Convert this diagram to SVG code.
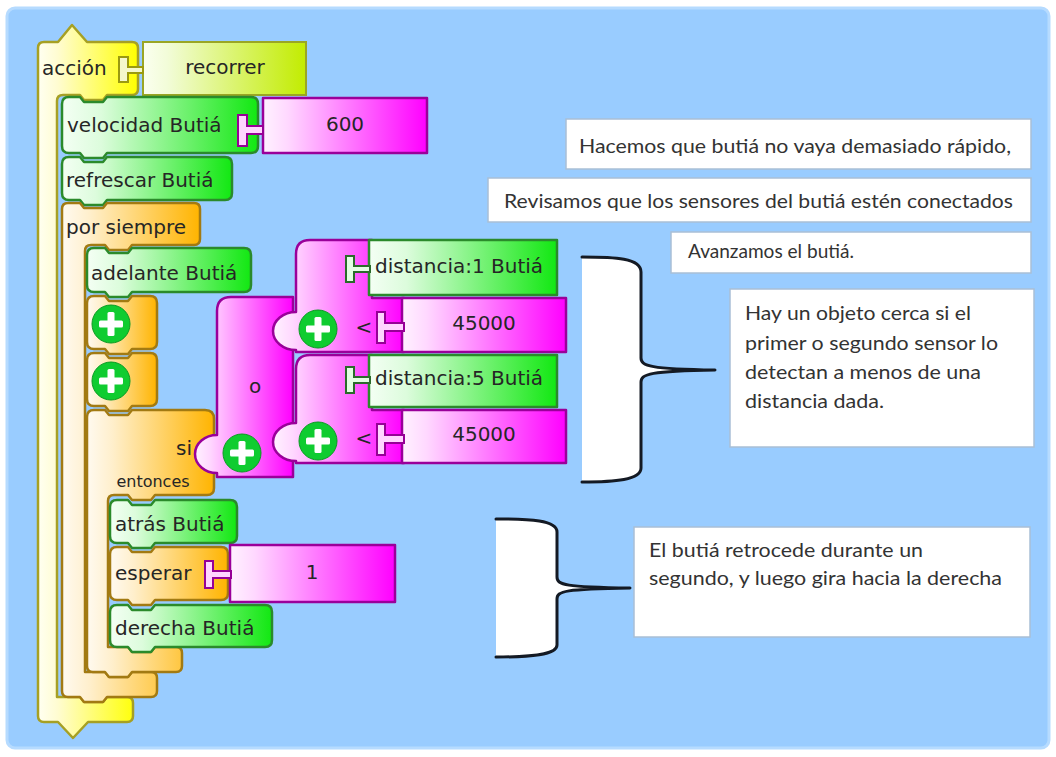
<svg xmlns="http://www.w3.org/2000/svg" width="1056" height="757" viewBox="0 0 1056 757">
<defs>
<linearGradient id="gG" x1="0" y1="0" x2="1" y2="0"><stop offset="0" stop-color="#f4fff4"/><stop offset="0.2" stop-color="#dcfcdc"/><stop offset="1" stop-color="#12e812"/></linearGradient>
<linearGradient id="gM" x1="0" y1="0" x2="1" y2="0"><stop offset="0" stop-color="#fff2ff"/><stop offset="0.15" stop-color="#ffd8ff"/><stop offset="1" stop-color="#ff00ff"/></linearGradient>
<linearGradient id="gO" x1="0" y1="0" x2="1" y2="0"><stop offset="0" stop-color="#fffaf0"/><stop offset="0.2" stop-color="#ffefcc"/><stop offset="1" stop-color="#ffb400"/></linearGradient>
<linearGradient id="gY" x1="0" y1="0" x2="1" y2="0"><stop offset="0" stop-color="#fffff2"/><stop offset="0.2" stop-color="#fffcd0"/><stop offset="1" stop-color="#ffff00"/></linearGradient>
<linearGradient id="gR" x1="0" y1="0" x2="1" y2="0"><stop offset="0" stop-color="#fbfff0"/><stop offset="0.15" stop-color="#f2fcd8"/><stop offset="1" stop-color="#c2ec00"/></linearGradient>
<g id="plus"><circle r="19" fill="#0fcc30" stroke="#0a9a22" stroke-width="1"/><rect x="-12" y="-3.5" width="24" height="7" rx="1.5" fill="#fff"/><rect x="-3.5" y="-12" width="7" height="24" rx="1.5" fill="#fff"/></g>
<style>
.g{fill:url(#gG);stroke:#2b8a2b;stroke-width:2.5;stroke-linejoin:round}
.m{fill:url(#gM);stroke:#9a009a;stroke-width:2.5;stroke-linejoin:round}
.o{fill:url(#gO);stroke:#a27a12;stroke-width:2.5;stroke-linejoin:round}
.y{fill:url(#gY);stroke:#a6a024;stroke-width:2.5;stroke-linejoin:round}
.r{fill:url(#gR);stroke:#9aa624;stroke-width:2}
.pm{fill:#ffd4ff;stroke:#960096;stroke-width:2}
.pg{fill:#e2ffe2;stroke:#2a6a2a;stroke-width:2}
.py{fill:#f4f8cc;stroke:#9a9a10;stroke-width:2}
.lbl{font-family:"DejaVu Sans",sans-serif;font-size:20px;fill:#262626}
.num{font-family:"DejaVu Sans",sans-serif;font-size:20px;fill:#262626;text-anchor:middle}
.box{fill:#fff;stroke:#a9bfd6;stroke-width:1.5}
.note{font-family:Lato,"Open Sans",sans-serif;font-size:20px;fill:#333}
.brf{fill:#fff;stroke:none}
.brs{fill:none;stroke:#141a24;stroke-width:3;stroke-linecap:round;stroke-linejoin:round}
</style>
</defs>
<rect x="0" y="0" width="1056" height="757" fill="#fff"/>
<rect x="7" y="8" width="1042" height="740" rx="8" fill="#99ccff" stroke="#b6dbff" stroke-width="3"/>

<g id="accion">
<path class="y" d="M 44 42 L 58 42 L 72 25 L 87 42 L 132 42 Q 138 42 138 48 L 138 89 Q 138 95 132 95 L 107 95 L 103 100 L 84 100 L 80 95 L 63 95 Q 57 95 57 101 L 57 697 L 80 697 L 84 702 L 103 702 L 107 697 L 127 697 Q 133 697 133 703 L 133 716 Q 133 722 127 722 L 88 722 L 73 738 L 58 722 L 44 722 Q 38 722 38 716 L 38 48 Q 38 42 44 42 Z"/>
<text class="lbl" x="42" y="75">acción</text>
</g>
<g id="recorrer">
<rect class="r" x="143" y="42" width="163" height="53"/>
<path class="py" d="M 119 57 L 128 57 L 128 67 L 143 67 L 143 73 L 128 73 L 128 82 L 119 82 Z"/>
<text class="num" x="225" y="74">recorrer</text>
</g>

<g id="velocidad">
<path class="g" d="M 69 97 L 80 97 L 84 102 L 103 102 L 107 97 L 251 97 Q 258 97 258 104 L 258 146 Q 258 153 251 153 L 107 153 L 103 158 L 84 158 L 80 153 L 69 153 Q 62 153 62 146 L 62 104 Q 62 97 69 97 Z"/>
<text class="lbl" x="67" y="132">velocidad Butiá</text>
</g>
<g id="v600">
<rect class="m" x="263" y="98" width="164" height="55"/>
<path class="pm" d="M 238 115 L 247 115 L 247 126 L 263 126 L 263 134 L 247 134 L 247 146 L 238 146 Z"/>
<text class="num" x="345" y="131">600</text>
</g>

<g id="refrescar">
<path class="g" d="M 69 157 L 80 157 L 84 162 L 103 162 L 107 157 L 225 157 Q 232 157 232 164 L 232 193 Q 232 200 225 200 L 107 200 L 103 205 L 84 205 L 80 200 L 69 200 Q 62 200 62 193 L 62 164 Q 62 157 69 157 Z"/>
<text class="lbl" x="66" y="187">refrescar Butiá</text>
</g>

<g id="porsiempre">
<path class="o" d="M 68 203 L 80 203 L 84 208 L 103 208 L 107 203 L 194 203 Q 200 203 200 209 L 200 239 Q 200 245 194 245 L 132 245 L 128 250 L 109 250 L 105 245 L 91 245 Q 85 245 85 251 L 85 672 L 105 672 L 109 677 L 128 677 L 132 672 L 151 672 Q 157 672 157 678 L 157 691 Q 157 697 151 697 L 107 697 L 103 702 L 84 702 L 80 697 L 68 697 Q 62 697 62 691 L 62 209 Q 62 203 68 203 Z"/>
<text class="lbl" x="66" y="234">por siempre</text>
</g>

<g id="adelante">
<path class="g" d="M 94 248 L 105 248 L 109 253 L 128 253 L 132 248 L 244 248 Q 251 248 251 255 L 251 285 Q 251 292 244 292 L 132 292 L 128 297 L 109 297 L 105 292 L 94 292 Q 87 292 87 285 L 87 255 Q 87 248 94 248 Z"/>
<text class="lbl" x="91" y="280">adelante Butiá</text>
</g>

<g id="mas1">
<path class="o" d="M 94 296 L 105 296 L 109 301 L 128 301 L 132 296 L 150 296 Q 157 296 157 303 L 157 342 Q 157 349 150 349 L 132 349 L 128 354 L 109 354 L 105 349 L 94 349 Q 87 349 87 342 L 87 303 Q 87 296 94 296 Z"/>
<use href="#plus" x="111" y="324"/>
</g>
<g id="mas2">
<path class="o" d="M 94 353 L 105 353 L 109 358 L 128 358 L 132 353 L 150 353 Q 157 353 157 360 L 157 399 Q 157 406 150 406 L 132 406 L 128 411 L 109 411 L 105 406 L 94 406 Q 87 406 87 399 L 87 360 Q 87 353 94 353 Z"/>
<use href="#plus" x="111" y="381"/>
</g>

<g id="si">
<path class="o" d="M 94 410 L 105 410 L 109 415 L 128 415 L 132 410 L 205 410 Q 214 410 214 419 L 214 488 Q 214 495 207 495 L 155 495 L 151 500 L 132 500 L 128 495 L 114 495 Q 108 495 108 501 L 108 647 L 128 647 L 132 652 L 151 652 L 155 647 L 176 647 Q 182 647 182 653 L 182 666 Q 182 672 176 672 L 132 672 L 128 677 L 109 677 L 105 672 L 93 672 Q 87 672 87 666 L 87 417 Q 87 410 94 410 Z"/>
<text class="lbl" x="192" y="455" text-anchor="end">si</text>
<text class="lbl" x="153" y="487" text-anchor="middle" style="font-size:16px">entonces</text>
</g>

<g id="o">
<path class="m" d="M 231 297 L 293 297 L 293 477 L 217 477 L 217 473 A 22 19 0 0 1 217 435 L 217 311 Q 217 297 231 297 Z"/>
<text class="num" x="255" y="393">o</text>
<use href="#plus" x="242" y="453"/>
</g>

<g id="menor1">
<path class="m" d="M 296 254 Q 296 240 310 240 L 372 240 L 372 298 L 404 298 L 404 352 L 296 352 L 296 350 A 23 19 0 0 1 296 312 Z"/>
<use href="#plus" x="318" y="329"/>
<text class="num" x="364" y="334">&lt;</text>
</g>
<g id="distancia1">
<rect class="g" x="369" y="240" width="188" height="55"/>
<path class="pg" d="M 346 256 L 354 256 L 354 266 L 370 266 L 370 272 L 354 272 L 354 282 L 346 282 Z"/>
<text class="lbl" x="375" y="273">distancia:1 Butiá</text>
</g>
<g id="n45000a">
<rect class="m" x="402" y="298" width="164" height="54"/>
<path class="pm" d="M 377 312 L 385 312 L 385 323 L 404 323 L 404 331 L 385 331 L 385 343 L 377 343 Z"/>
<text class="num" x="484" y="330">45000</text>
</g>

<g id="menor2">
<path class="m" d="M 296 369 Q 296 355 310 355 L 372 355 L 372 410 L 404 410 L 404 463 L 296 463 L 296 461 A 23 19 0 0 1 296 423 Z"/>
<use href="#plus" x="318" y="441"/>
<text class="num" x="364" y="445">&lt;</text>
</g>
<g id="distancia5">
<rect class="g" x="369" y="355" width="188" height="52"/>
<path class="pg" d="M 346 367 L 354 367 L 354 377 L 370 377 L 370 383 L 354 383 L 354 393 L 346 393 Z"/>
<text class="lbl" x="375" y="385">distancia:5 Butiá</text>
</g>
<g id="n45000b">
<rect class="m" x="402" y="410" width="164" height="53"/>
<path class="pm" d="M 377 424 L 385 424 L 385 435 L 404 435 L 404 443 L 385 443 L 385 455 L 377 455 Z"/>
<text class="num" x="484" y="441">45000</text>
</g>

<g id="atras">
<path class="g" d="M 117 500 L 128 500 L 132 505 L 151 505 L 155 500 L 230 500 Q 237 500 237 507 L 237 536 Q 237 543 230 543 L 155 543 L 151 548 L 132 548 L 128 543 L 117 543 Q 110 543 110 536 L 110 507 Q 110 500 117 500 Z"/>
<text class="lbl" x="115" y="531">atrás Butiá</text>
</g>
<g id="esperar">
<path class="o" d="M 117 547 L 128 547 L 132 552 L 151 552 L 155 547 L 221 547 Q 228 547 228 554 L 228 593 Q 228 600 221 600 L 155 600 L 151 605 L 132 605 L 128 600 L 117 600 Q 110 600 110 593 L 110 554 Q 110 547 117 547 Z"/>
<text class="lbl" x="115" y="580">esperar</text>
</g>
<g id="uno">
<rect class="m" x="230" y="545" width="165" height="57"/>
<path class="pm" d="M 205 561 L 213 561 L 213 571 L 231 571 L 231 578 L 213 578 L 213 588 L 205 588 Z"/>
<text class="num" x="312" y="579">1</text>
</g>
<g id="derecha">
<path class="g" d="M 117 605 L 128 605 L 132 610 L 151 610 L 155 605 L 265 605 Q 272 605 272 612 L 272 640 Q 272 647 265 647 L 155 647 L 151 652 L 132 652 L 128 647 L 117 647 Q 110 647 110 640 L 110 612 Q 110 605 117 605 Z"/>
<text class="lbl" x="115" y="635">derecha Butiá</text>
</g>

<g id="nota1">
<rect class="box" x="566" y="119" width="465" height="50"/>
<text class="note" x="579" y="153" textLength="432" lengthAdjust="spacingAndGlyphs">Hacemos que butiá no vaya demasiado rápido,</text>
</g>
<g id="nota2">
<rect class="box" x="488" y="178" width="543" height="44"/>
<text class="note" x="504" y="208" textLength="509" lengthAdjust="spacingAndGlyphs">Revisamos que los sensores del butiá estén conectados</text>
</g>
<g id="nota3">
<rect class="box" x="671" y="232" width="360" height="41"/>
<text class="note" x="688" y="258" textLength="166" lengthAdjust="spacingAndGlyphs">Avanzamos el butiá.</text>
</g>
<g id="nota4">
<rect class="box" x="730" y="289" width="304" height="158"/>
<text class="note" x="745" y="320" textLength="226" lengthAdjust="spacingAndGlyphs">Hay un objeto cerca si el</text>
<text class="note" x="745" y="350" textLength="253" lengthAdjust="spacingAndGlyphs">primer o segundo sensor lo</text>
<text class="note" x="745" y="379" textLength="236" lengthAdjust="spacingAndGlyphs">detectan a menos de una</text>
<text class="note" x="745" y="408" textLength="139" lengthAdjust="spacingAndGlyphs">distancia dada.</text>
</g>
<g id="nota5">
<rect class="box" x="634" y="527" width="396" height="110"/>
<text class="note" x="649" y="557" textLength="274" lengthAdjust="spacingAndGlyphs">El butiá retrocede durante un</text>
<text class="note" x="649" y="585" textLength="353" lengthAdjust="spacingAndGlyphs">segundo, y luego gira hacia la derecha</text>
</g>

<g id="connectors">
<path class="brf" d="M 582 257 C 615 257 641 258 641 272 L 641 358 C 641 366 650 369 715 370 C 650 371 641 374 641 382 L 641 468 C 641 480 615 482 582 482 Z"/>
<path class="brs" d="M 582 257 C 615 257 641 258 641 272 L 641 358 C 641 366 650 369 715 370 C 650 371 641 374 641 382 L 641 468 C 641 480 615 482 582 482"/>
<path class="brf" d="M 496 519 C 530 519 557 520 557 532 L 557 577 C 557 585 565 587 630 588 C 565 589 557 591 557 599 L 557 645 C 557 655 530 657 496 657 Z"/>
<path class="brs" d="M 496 519 C 530 519 557 520 557 532 L 557 577 C 557 585 565 587 630 588 C 565 589 557 591 557 599 L 557 645 C 557 655 530 657 496 657"/>
</g>
</svg>
